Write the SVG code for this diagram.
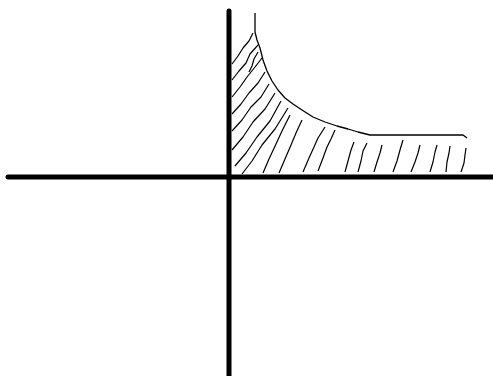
<svg xmlns="http://www.w3.org/2000/svg" width="493" height="376" viewBox="0 0 493 376">
<style>
.axis{stroke:#000;stroke-width:5;fill:none;stroke-linecap:round}
.curve{stroke:#000;stroke-width:1.3;fill:none;stroke-linejoin:round}
.hatch{stroke:#000;stroke-width:1.2;fill:none;stroke-linejoin:round}
</style>
<rect width="493" height="376" fill="#fff"/>
<g id="axes">
<line class="axis" x1="229" y1="11" x2="229" y2="376"/>
<line class="axis" x1="8" y1="177" x2="493" y2="177"/>
</g>
<g id="curve">
<polyline class="curve" points="255,13 255,32 257,40 260,48 263,60 267,71 272,81 278,90 285,98 293,104 302,110 313,117 325,122 337,126 348,129 358,132 370,135 463,135 467,138"/>
</g>
<g id="hatching">
<polyline class="hatch" points="232,64 238,56 243,48 249,41 253,33"/>
<polyline class="hatch" points="232,80 239,71 246,63 250,54 258,45"/>
<polyline class="hatch" points="249,72 252,66 254,59 258,52"/>
<polyline class="hatch" points="232,97 240,87 247,77 255,67 262,58"/>
<polyline class="hatch" points="232,114 241,104 249,93 258,83 265,72"/>
<polyline class="hatch" points="232,131 242,120 251,107 261,97 269,84"/>
<polyline class="hatch" points="232,150 243,137 253,122 265,109 275,93"/>
<polyline class="hatch" points="235,166 246,153 257,137 270,121 281,101"/>
<polyline class="hatch" points="242,174 252,161 262,145 275,129 288,108"/>
<polyline class="hatch" points="263,173 269,159 276,144 282,131 290,115"/>
<polyline class="hatch" points="279,173 285,159 291,145 296,133 302,120"/>
<polyline class="hatch" points="303,172 309,158 314,147 318,138 325,127"/>
<polyline class="hatch" points="318,171 323,158 327,147 331,139 335,130"/>
<polyline class="hatch" points="345,172 348,161 351,150 354,142"/>
<polyline class="hatch" points="358,172 361,161 363,151 367,143"/>
<polyline class="hatch" points="374,172 377,162 380,153 382,145"/>
<polyline class="hatch" points="393,172 397,161 400,150 403,140"/>
<polyline class="hatch" points="411,172 415,162 418,153 420,145"/>
<polyline class="hatch" points="430,172 433,162 435,152 437,145"/>
<polyline class="hatch" points="446,172 447,162 449,153 450,146"/>
<polyline class="hatch" points="461,172 464,163 465,155 466,148"/>
</g>
</svg>
